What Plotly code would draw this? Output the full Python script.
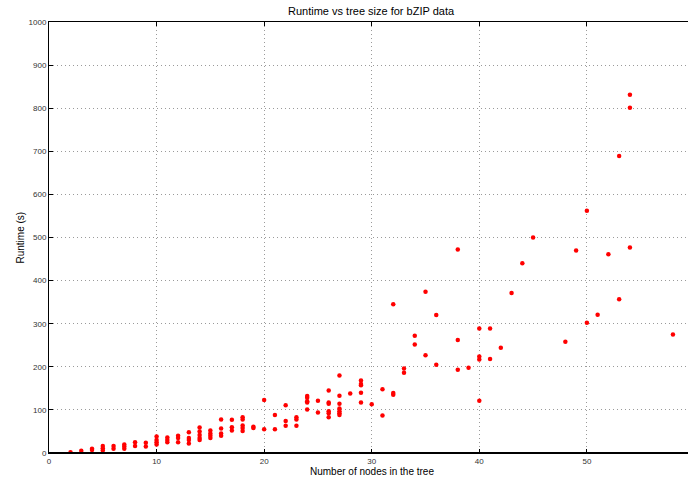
import plotly.graph_objects as go

# Number of nodes in tree (x) and runtime in seconds (y)
nodes = [2, 3, 4, 4, 5, 5, 5, 6, 6, 7, 7, 7, 8, 8, 9, 9,
         10, 10, 10, 10, 11, 11, 11, 12, 12, 12,
         13, 13, 13, 13, 14, 14, 14, 14, 14, 15, 15, 15, 15,
         16, 16, 16, 16, 17, 17, 17, 18, 18, 18, 18, 18, 19, 19,
         20, 20, 21, 21, 22, 22, 22, 23, 23, 23,
         24, 24, 24, 24, 24, 25, 25,
         26, 26, 26, 26, 26, 26,
         27, 27, 27, 27, 27, 27, 27, 28,
         29, 29, 29, 29, 29, 30, 31, 31, 32, 32, 32,
         33, 33, 34, 34, 35, 35, 36, 36,
         38, 38, 38, 39, 40, 40, 40, 40, 41, 41, 42, 43, 44, 45,
         48, 49, 50, 50, 51, 52, 53, 53, 54, 54, 54, 58]
runtime = [2, 5, 7, 10, 6, 11, 16, 10, 16, 10, 15, 20, 16, 25, 15, 24,
           38, 30, 25, 20, 36, 30, 25, 40, 35, 25,
           48, 35, 30, 22, 59, 50, 42, 35, 30, 52, 45, 40, 35,
           78, 57, 45, 40, 77, 60, 52, 83, 78, 64, 58, 51, 61, 58,
           123, 55, 88, 55, 111, 74, 63, 83, 78, 63,
           132, 128, 120, 117, 101, 121, 94,
           145, 117, 114, 97, 92, 83,
           180, 133, 114, 103, 97, 92, 88, 138,
           168, 160, 157, 140, 117, 113, 148, 87, 345, 139, 135,
           196, 186, 272, 252, 374, 227, 320, 205,
           472, 262, 193, 198, 289, 224, 217, 121, 289, 218, 244, 371, 440, 500,
           258, 470, 562, 302, 321, 461, 689, 357, 831, 801, 477, 275]

x_ticks = [0, 10, 20, 30, 40, 50]
y_ticks = [0, 100, 200, 300, 400, 500, 600, 700, 800, 900, 1000]

fig = go.Figure()
fig.add_trace(go.Scatter(
    x=nodes, y=runtime, mode="markers",
    marker=dict(color="#ff0000", size=4.5, line=dict(width=0)),
    showlegend=False, hoverinfo="x+y",
))

font_family = "Liberation Sans, Arial, sans-serif"
grid_common = dict(showgrid=True, gridcolor="#9a9a9a", griddash="1px,3px", gridwidth=1)
L, R = 49, 688
cx = (371.8 - L) / (R - L)
fig.update_layout(
    width=688, height=480,
    margin=dict(l=L, r=0, t=22, b=27, pad=0),
    paper_bgcolor="white", plot_bgcolor="white",
    font=dict(family=font_family, size=8, color="#333333"),
    xaxis=dict(
        range=[0, 59.4], tickvals=x_ticks, ticktext=[str(v) for v in x_ticks],
        showline=True, linecolor="black", linewidth=1, mirror="ticks",
        ticks="inside", ticklen=4, tickcolor="black",
        zeroline=False, tickfont=dict(size=8, color="#333333"), **grid_common,
    ),
    yaxis=dict(
        range=[0, 1000], tickvals=y_ticks, ticktext=[str(v) for v in y_ticks],
        showline=True, linecolor="black", linewidth=1, mirror=False,
        ticks="inside", ticklen=4, tickcolor="black",
        zeroline=False, tickfont=dict(size=8, color="#333333"), **grid_common,
    ),
    shapes=[dict(type="line", xref="paper", yref="paper", x0=0, x1=1, y0=0, y1=0,
                 line=dict(color="black", width=2), layer="above")],
    annotations=[
        dict(text="Runtime vs tree size for bZIP data", xref="paper", yref="paper",
             x=cx, y=1, yshift=11, xanchor="center", yanchor="middle",
             showarrow=False, font=dict(size=11, color="black")),
        dict(text="Number of nodes in the tree", xref="paper", yref="paper",
             x=cx, y=0, yshift=-18, xanchor="center", yanchor="middle",
             showarrow=False, font=dict(size=10, color="black")),
        dict(text="Runtime (s)", xref="paper", yref="paper",
             x=(20 - L) / (R - L), y=0.5, xanchor="center", yanchor="middle",
             textangle=-90, showarrow=False, font=dict(size=10, color="black")),
    ],
)

fig.write_html("out.html")
